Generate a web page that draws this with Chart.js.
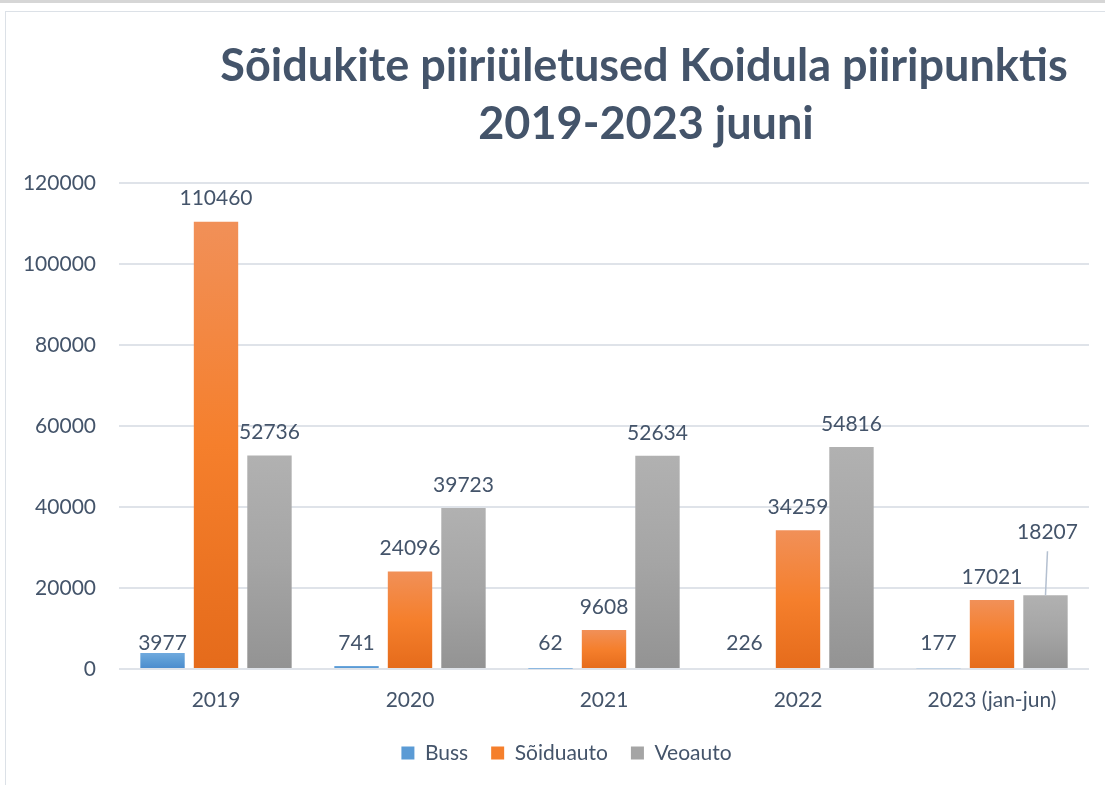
<!DOCTYPE html>
<html>
<head>
<meta charset="utf-8">
<script src="https://cdn.jsdelivr.net/npm/chart.js@4.4.1/dist/chart.umd.min.js"></script>
<style>
  html, body { margin: 0; padding: 0; background: #fff; overflow: hidden; }
  body { width: 1105px; height: 785px; position: relative; }
  #band { position: absolute; left: 0; top: 0; width: 1105px; height: 3px; background: #d6d6d6; }
  #frame { position: absolute; left: 5px; top: 11px; width: 1120px; height: 774px;
           border-top: 1px solid #dce1e7; border-left: 1px solid #dce1e7; }
  #wrap { position: absolute; left: 1px; top: 1px; width: 1120px; height: 773px; }
</style>
</head>
<body>
<div id="band"></div>
<div id="frame"><div id="wrap"><canvas id="chart"></canvas></div></div>
<script>
const titleLines = ['Sõidukite piiriületused Koidula piiripunktis', '2019-2023 juuni'];
const years = ['2019', '2020', '2021', '2022', '2023 (jan-jun)'];
const seriesNames = ['Buss', 'Sõiduauto', 'Veoauto'];
const buss = [3977, 741, 62, 226, 177];
const soiduauto = [110460, 24096, 9608, 34259, 17021];
const veoauto = [52736, 39723, 52634, 54816, 18207];
const yTicks = [0, 20000, 40000, 60000, 80000, 100000, 120000];

const textColor = '#44546A';
const font = 'Lato, "Open Sans", sans-serif';

const gradients = [
  ['#70aade', '#5b9bd5', '#4a8bcd'],
  ['#f19058', '#f57f2c', '#e56b1b'],
  ['#b1b1b1', '#a5a5a5', '#939393'],
];

function barFill(i) {
  return ctx => {
    const chart = ctx.chart;
    if (!chart.chartArea || ctx.raw === undefined) return gradients[i][1];
    const y = chart.scales.y;
    const top = y.getPixelForValue(ctx.raw);
    const base = y.getPixelForValue(0);
    const g = chart.ctx.createLinearGradient(0, top, 0, Math.max(base, top + 1));
    g.addColorStop(0, gradients[i][0]);
    g.addColorStop(0.5, gradients[i][1]);
    g.addColorStop(1, gradients[i][2]);
    return g;
  };
}

// title drawn off-centre like the original
const titlePlugin = {
  id: 'sheetTitle',
  afterLayout(chart) {
    // legend in the original sits a bit left of the plot centre
    chart.legend.left += 37;
  },
  afterDraw(chart) {
    const c = chart.ctx;
    c.save();
    c.fillStyle = textColor;
    c.font = 'bold 45px ' + font;
    c.textAlign = 'center';
    c.textBaseline = 'alphabetic';
    c.fillText(titleLines[0], 637, 68);
    c.fillText(titleLines[1], 639, 126);
    c.restore();
  }
};

// value labels above bars
const valueLabels = {
  id: 'valueLabels',
  afterDatasetsDraw(chart) {
    const c = chart.ctx;
    const base = chart.scales.y.getPixelForValue(0);
    c.save();
    c.font = '21px ' + font;
    c.fillStyle = textColor;
    c.textAlign = 'center';
    c.textBaseline = 'middle';
    chart.data.datasets.forEach((ds, di) => {
      chart.getDatasetMeta(di).data.forEach((bar, i) => {
        let y = bar.y - 23;
        if (di === 0) y = base - 26;
        if (di === 2 && i === 4) {
          y = bar.y - 63;
          c.strokeStyle = '#b4c0d0';
          c.lineWidth = 1.5;
          c.beginPath();
          c.moveTo(bar.x + 2, y + 19);
          c.lineTo(bar.x, bar.y);
          c.stroke();
        }
        c.fillText(String(ds.data[i]), bar.x + (di === 2 && i === 4 ? 2 : 0), y);
      });
    });
    c.restore();
  }
};

new Chart(document.getElementById('chart'), {
  type: 'bar',
  data: {
    labels: years,
    datasets: [
      { label: seriesNames[0], data: buss, backgroundColor: barFill(0) },
      { label: seriesNames[1], data: soiduauto, backgroundColor: barFill(1) },
      { label: seriesNames[2], data: veoauto, backgroundColor: barFill(2) },
    ].map(d => Object.assign(d, { categoryPercentage: 0.827, barPercentage: 0.83 }))
  },
  options: {
    responsive: true,
    maintainAspectRatio: false,
    animation: false,
    layout: { padding: { top: 170, right: 38, bottom: 12.5, left: 0 } },
    plugins: {
      title: { display: false },
      tooltip: { enabled: false },
      legend: {
        position: 'bottom',
        labels: {
          boxWidth: 13, boxHeight: 13, padding: 23,
          color: textColor, font: { family: font, size: 21 },
          generateLabels: chart => chart.data.datasets.map((ds, i) => ({
            text: ds.label, fillStyle: gradients[i][1], strokeStyle: gradients[i][1],
            lineWidth: 0, datasetIndex: i, fontColor: textColor
          }))
        }
      }
    },
    scales: {
      x: {
        grid: { display: false },
        border: { display: false },
        ticks: { color: textColor, font: { family: font, size: 21 }, padding: 11 },
        afterFit: s => { s.height = 50.5; }
      },
      y: {
        min: 0, max: 120000,
        afterBuildTicks: s => { s.ticks = yTicks.map(v => ({ value: v })); },
        grid: { color: '#dfe3e9', lineWidth: 2, drawTicks: false },
        border: { display: false },
        ticks: { color: textColor, font: { family: font, size: 21 }, padding: 23, callback: v => String(v) },
        afterFit: s => { s.width = 112; }
      }
    }
  },
  plugins: [titlePlugin, valueLabels]
});
</script>
</body>
</html>
